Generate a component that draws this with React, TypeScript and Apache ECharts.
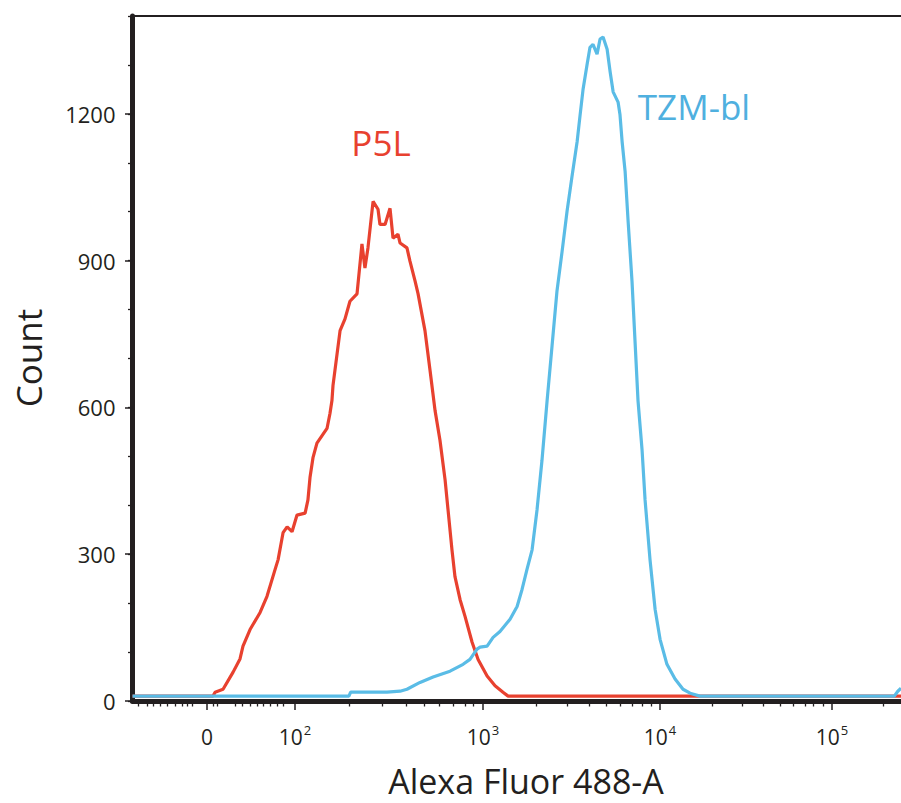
import React, { useEffect, useRef } from "react";
import * as echarts from "echarts";

// Display coordinate on the x axis: decades of the biexponential scale (10^3 -> 3, 10^4 -> 4 ...)
const X_MIN = 1.014;
const X_MAX = 5.368;

const X_TICK_POS = [1.436, 1.935, 3.0, 4.003, 4.977];
const X_TICK_LABELS = ["0", "10^2", "10^3", "10^4", "10^5"];

const X_MINOR_TICKS = [
  1.045, 1.096, 1.13, 1.17, 1.21, 1.255, 1.295, 1.323, 1.351,
  1.47, 1.493, 1.595, 1.635, 1.68, 1.72, 1.754, 1.793, 1.833, 1.867,
  2.241, 2.428, 2.564, 2.666, 2.751, 2.83, 2.898, 2.943,
  3.301, 3.477, 3.602, 3.699, 3.778, 3.845, 3.903, 3.954,
  4.297, 4.467, 4.586, 4.683, 4.756, 4.824, 4.87, 4.926,
  5.266,
];

const Y_MAX = 1400;
const Y_LABELS = [0, 300, 600, 900, 1200];

const P5L: [number, number][] = [
  [1.014, 10], [1.47, 10], [1.482, 18], [1.527, 24], [1.584, 59], [1.623, 86],
  [1.64, 112], [1.68, 146], [1.737, 181], [1.776, 214], [1.822, 269], [1.839, 289],
  [1.867, 344], [1.89, 356], [1.918, 346], [1.946, 380], [1.992, 384], [2.008, 411],
  [2.02, 458], [2.037, 498], [2.059, 527], [2.116, 557], [2.133, 588], [2.144, 614],
  [2.15, 645], [2.19, 757], [2.218, 781], [2.246, 817], [2.286, 832], [2.314, 934],
  [2.331, 885], [2.348, 926], [2.377, 1021], [2.405, 1005], [2.416, 974], [2.445, 974],
  [2.473, 1007], [2.49, 946], [2.518, 954], [2.53, 936], [2.569, 926], [2.586, 899],
  [2.615, 858], [2.632, 832], [2.671, 757], [2.7, 675], [2.728, 594], [2.756, 533],
  [2.785, 452], [2.824, 309], [2.841, 254], [2.87, 207], [2.898, 173], [2.938, 120],
  [2.972, 85], [3.023, 51], [3.068, 31], [3.113, 18], [3.142, 10], [5.368, 10],
];

const TZM_BL: [number, number][] = [
  [1.014, 10], [2.24, 10], [2.25, 18], [2.456, 18], [2.53, 20], [2.569, 24],
  [2.643, 38], [2.717, 49], [2.813, 61], [2.887, 75], [2.926, 85], [2.966, 106],
  [2.983, 110], [3.023, 112], [3.057, 130], [3.096, 142], [3.153, 167], [3.193, 193],
  [3.221, 228], [3.249, 269], [3.278, 309], [3.306, 391], [3.334, 492], [3.363, 614],
  [3.391, 726], [3.419, 838], [3.448, 919], [3.476, 1001], [3.504, 1072], [3.533, 1143],
  [3.55, 1198], [3.567, 1251], [3.589, 1300], [3.606, 1336], [3.623, 1342], [3.646, 1322],
  [3.663, 1353], [3.68, 1357], [3.703, 1332], [3.72, 1286], [3.737, 1245], [3.765, 1224],
  [3.776, 1198], [3.788, 1143], [3.805, 1082], [3.822, 980], [3.844, 858], [3.861, 736],
  [3.878, 614], [3.901, 513], [3.918, 411], [3.946, 289], [3.975, 187], [4.003, 126],
  [4.042, 75], [4.088, 45], [4.133, 24], [4.173, 16], [4.229, 10], [5.33, 10],
  [5.35, 20], [5.368, 26],
];

const RED = "#E8412F";
const BLUE = "#5ABCE6";
const FONT = "Open Sans";
const INK = "#231F20";

function xLabel(value: number): string {
  let idx = 0;
  let best = Infinity;
  X_TICK_POS.forEach((p, i) => {
    const d = Math.abs(p - value);
    if (d < best) {
      best = d;
      idx = i;
    }
  });
  const lab = X_TICK_LABELS[idx];
  if (lab.indexOf("^") < 0) return "{b|" + lab + "}";
  const [base, exp] = lab.split("^");
  return "{b|" + base + "}{s|" + exp + "}";
}

export default function App() {
  const ref = useRef<HTMLDivElement>(null);
  useEffect(() => {
    document.body.style.margin = "0";
    if (!ref.current) return;
    const chart = echarts.init(ref.current, undefined, { renderer: "svg" });
    chart.setOption({
      animation: false,
      backgroundColor: "#ffffff",
      grid: { left: 132.5, right: 0, top: 16, bottom: 102, containLabel: false },
      xAxis: [
        {
          type: "value",
          min: X_MIN,
          max: X_MAX,
          position: "bottom",
          axisLine: { show: true, lineStyle: { color: INK, width: 5 } },
          axisTick: {
            show: true,
            customValues: X_TICK_POS,
            length: 9,
            lineStyle: { color: INK, width: 1.5 },
          },
          axisLabel: {
            show: true,
            customValues: X_TICK_POS,
            margin: 24,
            formatter: (v: number) => xLabel(v),
            rich: {
              b: { fontSize: 21, fontFamily: FONT, color: INK, lineHeight: 24 },
              s: { fontSize: 13, fontFamily: FONT, color: INK, lineHeight: 13, padding: [0, 0, 14, 1] },
            },
          },
          splitLine: { show: false },
        },
        {
          type: "value",
          min: X_MIN,
          max: X_MAX,
          position: "bottom",
          axisLine: { show: false },
          axisTick: {
            show: true,
            customValues: X_MINOR_TICKS,
            length: 5.5,
            lineStyle: { color: INK, width: 1.3 },
          },
          axisLabel: { show: false },
          splitLine: { show: false },
        },
        {
          type: "value",
          min: X_MIN,
          max: X_MAX,
          position: "top",
          axisLine: { show: true, lineStyle: { color: INK, width: 2 } },
          axisTick: { show: false },
          axisLabel: { show: false },
          splitLine: { show: false },
        },
      ],
      yAxis: [
        {
          type: "value",
          min: 0,
          max: Y_MAX,
          interval: 100,
          position: "left",
          axisLine: { show: true, lineStyle: { color: INK, width: 5 } },
          axisTick: { show: true, length: 4.5, lineStyle: { color: INK, width: 1.3 } },
          axisLabel: {
            show: true,
            customValues: Y_LABELS,
            margin: 17,
            fontSize: 22,
            fontFamily: FONT,
            color: INK,
            formatter: (v: number) => String(v),
          },
          splitLine: { show: false },
        },
        {
          type: "value",
          min: 0,
          max: Y_MAX,
          position: "left",
          axisLine: { show: false },
          axisTick: { show: true, customValues: Y_LABELS, length: 7.5, lineStyle: { color: INK, width: 1.5 } },
          axisLabel: { show: false },
          splitLine: { show: false },
        },
      ],
      series: [
        {
          name: "P5L",
          type: "line",
          xAxisIndex: 0,
          yAxisIndex: 0,
          data: P5L,
          showSymbol: false,
          symbol: "none",
          lineStyle: { color: RED, width: 3.2 },
          itemStyle: { color: RED },
        },
        {
          name: "TZM-bl",
          type: "line",
          xAxisIndex: 0,
          yAxisIndex: 0,
          data: TZM_BL,
          showSymbol: false,
          symbol: "none",
          lineStyle: { color: BLUE, width: 3.2 },
          itemStyle: { color: BLUE },
        },
      ],
      graphic: [
        {
          type: "text",
          x: 381,
          y: 142,
          style: { text: "P5L", fontSize: 35, fontFamily: FONT, fill: RED, align: "center", verticalAlign: "middle" },
        },
        {
          type: "text",
          x: 694,
          y: 106,
          style: { text: "TZM-bl", fontSize: 35, fontFamily: FONT, fill: "#4FB0DF", align: "center", verticalAlign: "middle" },
        },
        {
          type: "text",
          x: 526,
          y: 781,
          style: { text: "Alexa Fluor 488-A", fontSize: 34, fontFamily: FONT, fill: INK, align: "center", verticalAlign: "middle" },
        },
        {
          type: "text",
          x: 28,
          y: 358,
          rotation: Math.PI / 2,
          style: { text: "Count", fontSize: 35, fontFamily: FONT, fill: INK, align: "center", verticalAlign: "middle" },
        },
      ],
    });
    return () => chart.dispose();
  }, []);
  return <div ref={ref} style={{ width: 901, height: 803 }} />;
}
